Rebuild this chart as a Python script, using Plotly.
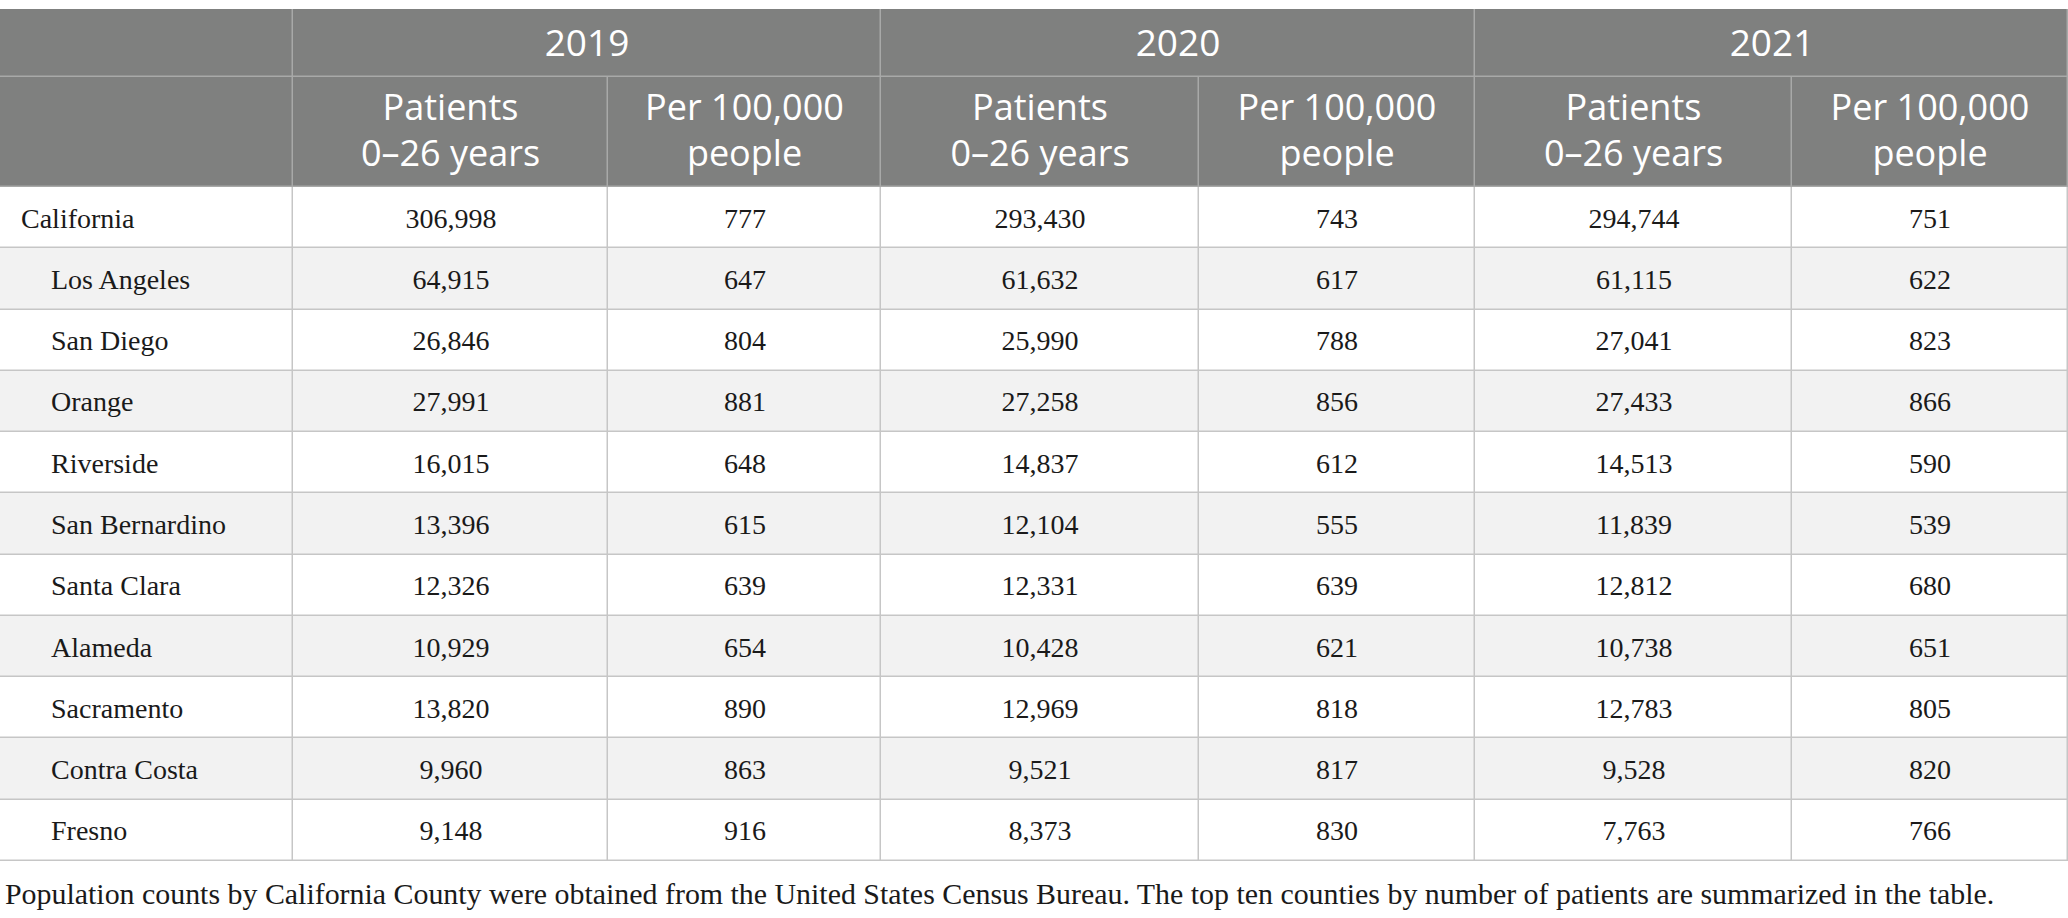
import numpy as np
import plotly.graph_objects as go

# table data
years = ["2019", "2020", "2021"]
sub_headers = ["Patients<br>0–26 years", "Per 100,000<br>people"]
regions = ["California", "Los Angeles", "San Diego", "Orange", "Riverside",
           "San Bernardino", "Santa Clara", "Alameda", "Sacramento",
           "Contra Costa", "Fresno"]
patients_2019 = ["306,998", "64,915", "26,846", "27,991", "16,015", "13,396",
                 "12,326", "10,929", "13,820", "9,960", "9,148"]
per100k_2019 = ["777", "647", "804", "881", "648", "615", "639", "654", "890", "863", "916"]
patients_2020 = ["293,430", "61,632", "25,990", "27,258", "14,837", "12,104",
                 "12,331", "10,428", "12,969", "9,521", "8,373"]
per100k_2020 = ["743", "617", "788", "856", "612", "555", "639", "621", "818", "817", "830"]
patients_2021 = ["294,744", "61,115", "27,041", "27,433", "14,513", "11,839",
                 "12,812", "10,738", "12,783", "9,528", "7,763"]
per100k_2021 = ["751", "622", "823", "866", "590", "539", "680", "651", "805", "820", "766"]
caption = ("Population counts by California County were obtained from the United States "
           "Census Bureau. The top ten counties by number of patients are summarized in the table.")

# layout in pixels (axes are set up 1 unit = 1 px)
W, H = 2068, 918
col_w = [293, 315, 273, 318, 276, 317, 276]
top, year_h, sub_h, row_h = 9, 68, 110, 61.27
head_gray = "#7f807f"
head_line = "#a8a9a8"
grid = "#c6c6c6"
sans = "Open Sans"
serif = "Liberation Serif"
ink = "#1a1a1a"

x_edges = np.concatenate([[0], np.cumsum(col_w)])
x_mid = (x_edges[:-1] + x_edges[1:]) / 2
year_edges = x_edges[[0, 1, 3, 5, 7]]
y_year = [top, top + year_h]
y_sub = [top + year_h, top + year_h + sub_h]
body_top = y_sub[1]
y_body = body_top + row_h * np.arange(len(regions) + 1)
row_mid = (y_body[:-1] + y_body[1:]) / 2

body_cols = [patients_2019, per100k_2019, patients_2020, per100k_2020,
             patients_2021, per100k_2021]
body_text = [[""] + [c[i] for c in body_cols] for i in range(len(regions))]
stripe = [[i % 2] * 7 for i in range(len(regions))]

fig = go.Figure()

# grid colour underneath the cells (shows through the gaps)
fig.add_trace(go.Heatmap(x=[0, W], y=[top, body_top], z=[[0]], showscale=False,
                         colorscale=[[0, head_line], [1, head_line]], hoverinfo="skip"))
fig.add_trace(go.Heatmap(x=[0, W], y=[body_top, y_body[-1]], z=[[0]], showscale=False,
                         colorscale=[[0, grid], [1, grid]], hoverinfo="skip"))

# header rows
fig.add_trace(go.Heatmap(
    x=year_edges, y=y_year, z=[[0, 0, 0, 0]], text=[[""] + years],
    texttemplate="%{text}", textfont=dict(family=sans, size=37, color="white"),
    colorscale=[[0, head_gray], [1, head_gray]], showscale=False,
    xgap=1.5, ygap=1.5, hoverinfo="skip"))
fig.add_trace(go.Heatmap(
    x=x_edges, y=y_sub, z=[[0] * 7],
    colorscale=[[0, head_gray], [1, head_gray]], showscale=False,
    xgap=1.5, ygap=1.5, hoverinfo="skip"))
fig.add_trace(go.Scatter(
    x=x_mid[1:], y=[sum(y_sub) / 2 + 2] * 6, text=sub_headers * 3,
    mode="text", textposition="middle center",
    textfont=dict(family=sans, size=36, color="white"), cliponaxis=False,
    hoverinfo="skip", showlegend=False))

# body cells with alternating stripes
fig.add_trace(go.Heatmap(
    x=x_edges, y=y_body, z=stripe, text=body_text, zmin=0, zmax=1,
    texttemplate="%{text}", textfont=dict(family=serif, size=28, color=ink),
    colorscale=[[0, "#ffffff"], [1, "#f2f2f2"]], showscale=False,
    xgap=1.5, ygap=1.5, hoverinfo="skip"))

# row labels, left aligned, counties indented
label_x = [21 if i == 0 else 51 for i in range(len(regions))]
fig.add_trace(go.Scatter(
    x=label_x, y=row_mid + 3, text=regions, mode="text", textposition="middle right",
    textfont=dict(family=serif, size=28, color=ink),
    cliponaxis=False, hoverinfo="skip", showlegend=False))

fig.add_annotation(text=caption, xref="x", yref="y", x=3, y=893,
                   xanchor="left", yanchor="middle", showarrow=False,
                   font=dict(family=serif, size=29.9, color=ink))

fig.update_xaxes(range=[0, W], visible=False, fixedrange=True)
fig.update_yaxes(range=[H, 0], visible=False, fixedrange=True)
fig.update_layout(width=W, height=H, margin=dict(l=0, r=0, t=0, b=0),
                  paper_bgcolor="white", plot_bgcolor="white", showlegend=False)

fig.write_html("out.html", config={"displayModeBar": False},
               post_script="document.body.style.margin='0';")
